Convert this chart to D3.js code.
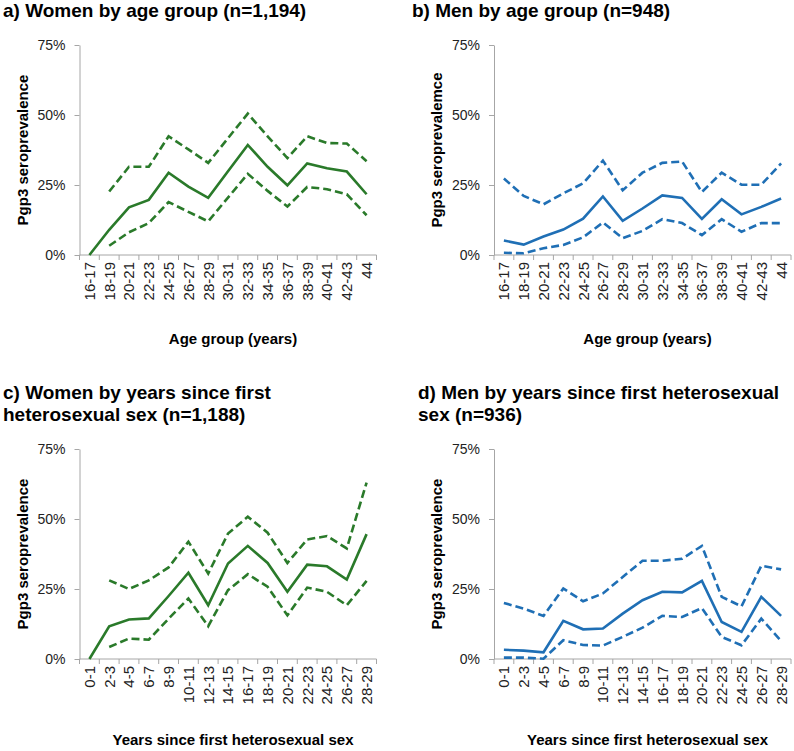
<!DOCTYPE html>
<html>
<head>
<meta charset="utf-8">
<script src="https://cdn.jsdelivr.net/npm/d3@7"></script>
<style>
  html, body { margin: 0; padding: 0; background: #fff; }
  svg { display: block; font-family: "Liberation Sans", Arial, sans-serif; }
</style>
</head>
<body>
<svg id="chart" width="794" height="751"></svg>
<script>
// ---------- DATA ----------
const ageGroups = ["16-17","18-19","20-21","22-23","24-25","26-27","28-29","30-31","32-33","34-35","36-37","38-39","40-41","42-43","44"];
const yearsSince = ["0-1","2-3","4-5","6-7","8-9","10-11","12-13","14-15","16-17","18-19","20-21","22-23","24-25","26-27","28-29"];
const yTicks = [0, 25, 50, 75];

// a) Women by age group
const womenAgeEst   = [0, 9.0, 17.0, 19.7, 29.4, 24.4, 20.4, 29.9, 39.3, 31.5, 24.9, 32.7, 31.0, 29.8, 21.7];
const womenAgeUpper = [null, 22.7, 31.5, 31.5, 42.4, 37.7, 32.9, 41.7, 50.5, 42.4, 34.6, 42.4, 40.0, 39.8, 33.5];
const womenAgeLower = [null, 3.3, 8.1, 11.4, 18.9, 15.4, 12.0, 20.5, 29.0, 22.9, 17.3, 24.3, 23.5, 21.7, 14.2];

// b) Men by age group
const menAgeEst   = [5.2, 3.7, 6.6, 9.1, 13.0, 20.9, 12.2, 16.6, 21.3, 20.4, 12.9, 19.9, 14.5, 17.2, 20.2];
const menAgeUpper = [27.3, 21.1, 18.1, 22.0, 25.6, 33.7, 23.1, 29.4, 32.9, 33.4, 22.5, 29.4, 25.1, 25.1, 32.7];
const menAgeLower = [0.8, 0.6, 2.4, 3.6, 6.3, 11.6, 6.0, 8.6, 12.8, 11.4, 7.1, 12.8, 8.3, 11.4, 11.4];

// c) Women by years since first heterosexual sex
const womenYrsEst   = [0, 11.7, 14.1, 14.5, 22.5, 30.8, 19.2, 34.1, 40.4, 34.3, 24.0, 33.7, 33.1, 28.4, 44.6];
const womenYrsUpper = [null, 28.1, 25.0, 28.1, 32.7, 41.9, 30.5, 44.8, 50.8, 45.1, 34.3, 42.7, 43.9, 39.5, 63.0];
const womenYrsLower = [null, 4.3, 7.3, 6.9, 14.4, 21.6, 11.7, 24.6, 30.3, 25.8, 15.6, 25.5, 24.0, 19.2, 27.9];

// d) Men by years since first heterosexual sex
const menYrsEst   = [3.3, 3.0, 2.4, 13.6, 10.6, 10.9, 16.2, 21.0, 24.0, 23.8, 27.9, 13.2, 9.7, 22.2, 15.4];
const menYrsUpper = [20.0, 18.0, 15.4, 25.2, 20.6, 23.4, 29.3, 35.1, 35.1, 35.8, 40.4, 22.2, 18.8, 33.3, 32.0];
const menYrsLower = [0.5, 0.5, 0.1, 6.7, 5.0, 4.8, 7.9, 11.2, 15.4, 15.0, 18.2, 7.9, 4.9, 14.4, 6.4];

// ---------- DRAWING ----------
const GREEN = "#2a7a2a";
const BLUE  = "#1f6fb5";
const svg = d3.select("#chart");

const panels = [
  { title: ["a) Women by age group (n=1,194)"], tx: 3, ty: 17,
    left: 79.5, top: 45, yLabel: "Pgp3 seroprevalence", xLabel: "Age group (years)",
    cats: ageGroups, est: womenAgeEst, up: womenAgeUpper, lo: womenAgeLower, color: GREEN, xTitleY: 344 },
  { title: ["b) Men by age group (n=948)"], tx: 412, ty: 17,
    left: 494, top: 45, yLabel: "Pgp3 seroprevalemce", xLabel: "Age group (years)",
    cats: ageGroups, est: menAgeEst, up: menAgeUpper, lo: menAgeLower, color: BLUE, xTitleY: 344 },
  { title: ["c) Women by years since first", "heterosexual sex (n=1,188)"], tx: 3, ty: 399,
    left: 79.5, top: 449, yLabel: "Pgp3 seroprevalence", xLabel: "Years since first heterosexual sex",
    cats: yearsSince, est: womenYrsEst, up: womenYrsUpper, lo: womenYrsLower, color: GREEN, xTitleY: 745 },
  { title: ["d) Men by years since first heterosexual", "sex (n=936)"], tx: 418, ty: 399,
    left: 494, top: 449, yLabel: "Pgp3 seroprevalence", xLabel: "Years since first heterosexual sex",
    cats: yearsSince, est: menYrsEst, up: menYrsUpper, lo: menYrsLower, color: BLUE, xTitleY: 745 }
];

const W = 297, H = 210;

panels.forEach(p => {
  // title
  const t = svg.append("text")
    .attr("x", p.tx).attr("y", p.ty)
    .attr("font-size", 19).attr("font-weight", "bold").attr("fill", "#000");
  p.title.forEach((line, i) => {
    t.append("tspan").attr("x", p.tx).attr("dy", i === 0 ? 0 : 21.5).text(line);
  });

  const g = svg.append("g").attr("transform", `translate(${p.left},${p.top})`);
  const x = d3.scaleBand().domain(p.cats).range([0, W]).padding(0);
  const y = d3.scaleLinear().domain([0, 75]).range([H, 0]);

  // y axis
  const ya = g.append("g").call(
    d3.axisLeft(y).tickValues(yTicks).tickFormat(d => d + "%").tickSizeOuter(0).tickSizeInner(5).tickPadding(9)
  );
  ya.select(".domain").attr("stroke", "#a6a6a6");
  ya.selectAll(".tick line").attr("stroke", "#a6a6a6");
  ya.selectAll(".tick text").attr("font-size", 14).attr("fill", "#222")
    .attr("font-family", '"Liberation Sans", Arial, sans-serif');

  // x axis (ticks at band boundaries)
  const xa = g.append("g").attr("transform", `translate(0,${H})`);
  xa.append("line").attr("x1", 0).attr("x2", W).attr("y1", 0).attr("y2", 0).attr("stroke", "#a6a6a6");
  const bounds = p.cats.map(c => x(c)).concat([x(p.cats[p.cats.length - 1]) + x.bandwidth()]);
  xa.selectAll("line.tk").data(bounds).join("line").attr("class", "tk")
    .attr("x1", d => d).attr("x2", d => d).attr("y1", 0).attr("y2", 5).attr("stroke", "#a6a6a6");
  xa.selectAll("text.lbl").data(p.cats).join("text").attr("class", "lbl")
    .attr("transform", d => `translate(${x(d) + x.bandwidth() / 2},7) rotate(-90)`)
    .attr("text-anchor", "end").attr("dy", "0.36em")
    .attr("font-size", 15).attr("fill", "#222")
    .text(d => d);

  // y axis title
  svg.append("text")
    .attr("transform", `translate(${p.left - 52},${p.top + H / 2}) rotate(-90)`)
    .attr("text-anchor", "middle").attr("font-size", 15).attr("font-weight", "bold").attr("fill", "#000")
    .text(p.yLabel);

  // x axis title
  svg.append("text")
    .attr("x", p.left + W / 2 + 5).attr("y", p.xTitleY)
    .attr("text-anchor", "middle").attr("font-size", 15).attr("font-weight", "bold").attr("fill", "#000")
    .text(p.xLabel);

  // lines
  const line = d3.line()
    .defined(d => d.v !== null)
    .x(d => x(d.c) + x.bandwidth() / 2)
    .y(d => y(d.v));
  const mk = arr => p.cats.map((c, i) => ({ c, v: arr[i] }));

  [[p.up, true], [p.lo, true], [p.est, false]].forEach(([arr, dashed]) => {
    g.append("path").datum(mk(arr))
      .attr("fill", "none").attr("stroke", p.color).attr("stroke-width", 2.6)
      .attr("stroke-linejoin", "miter")
      .attr("stroke-dasharray", dashed ? "8,4" : null)
      .attr("d", line);
  });
});
</script>
</body>
</html>
